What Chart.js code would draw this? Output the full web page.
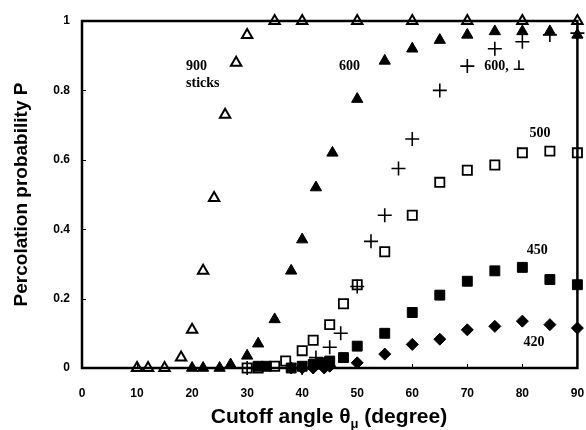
<!DOCTYPE html>
<html>
<head>
<meta charset="utf-8">
<script src="https://cdn.jsdelivr.net/npm/chart.js@4.4.1/dist/chart.umd.min.js"></script>
<style>
  html, body { margin: 0; padding: 0; background: #fff; }
  #wrap { width: 586px; height: 430px; }
</style>
</head>
<body>
<div id="wrap"><canvas id="percChart"></canvas></div>
<script>
// values (cutoff angle in degrees, probability P)
const angle900 = [10, 12, 15, 18, 20, 22, 24, 26, 28, 30, 35, 40, 50, 60, 70, 80, 90];
const prob900  = [0, 0, 0, 0.03, 0.11, 0.28, 0.49, 0.73, 0.88, 0.96, 1, 1, 1, 1, 1, 1, 1];

const angle600 = [20, 22, 25, 27, 30, 32, 35, 38, 40, 42.5, 45.5, 50, 55, 60, 65, 70, 75, 80, 85, 90];
const prob600  = [0, 0, 0, 0.01, 0.035, 0.07, 0.14, 0.28, 0.37, 0.52, 0.62, 0.775, 0.885, 0.92, 0.945, 0.96, 0.97, 0.97, 0.97, 0.96];

const angle600perp = [30, 40, 42.5, 45, 47, 50, 52.5, 55, 57.5, 60, 65, 70, 75, 80, 85, 90];
const prob600perp  = [0, 0, 0.03, 0.06, 0.10, 0.235, 0.365, 0.44, 0.575, 0.66, 0.80, 0.87, 0.92, 0.94, 0.96, 0.965];

const angle500 = [30, 32, 35, 37, 40, 42, 45, 47.5, 50, 55, 60, 65, 70, 75, 80, 85, 90];
const prob500  = [0, 0, 0.005, 0.02, 0.05, 0.08, 0.125, 0.185, 0.24, 0.335, 0.44, 0.535, 0.57, 0.585, 0.62, 0.625, 0.62];

const angle450 = [32, 33.5, 38, 40, 42, 43.5, 45, 47.5, 50, 55, 60, 65, 70, 75, 80, 85, 90];
const prob450  = [0.005, 0.005, 0, 0.005, 0.01, 0.015, 0.02, 0.03, 0.063, 0.10, 0.16, 0.21, 0.25, 0.28, 0.29, 0.255, 0.24];

const angle420 = [38, 40, 42, 44, 45, 50, 55, 60, 65, 70, 75, 80, 85, 90];
const prob420  = [0, 0, 0, 0, 0.005, 0.015, 0.04, 0.068, 0.083, 0.11, 0.12, 0.135, 0.125, 0.115];

const xTicks = [0, 10, 20, 30, 40, 50, 60, 70, 80, 90];
const yTicks = [0, 0.2, 0.4, 0.6, 0.8, 1];

// series labels written inside the plot, anchored in data units
const noteText = ['900', 'sticks', '600', '600, \u22A5', '500', '450', '420'];
const noteX    = [18.9, 18.9, 46.7, 73.1, 81.3, 80.8, 80.2];
const noteY    = [0.87, 0.82, 0.87, 0.87, 0.676, 0.339, 0.075];

function pts(xs, ys) {
  return xs.map((x, i) => ({x: x, y: ys[i]}))
}

function series(xs, ys, style, radius, fill, width) {
  return {
    data: pts(xs, ys),
    pointStyle: style,
    pointRadius: radius,
    pointHoverRadius: radius,
    pointBorderColor: '#000',
    pointBackgroundColor: fill ? '#000' : 'rgba(0,0,0,0)',
    pointBorderWidth: width,
    showLine: false,
    clip: false
  }
}

const frame = {
  id: 'frame',
  beforeDatasetsDraw(chart) {
    const {ctx, chartArea: a, scales} = chart;
    ctx.save();
    ctx.strokeStyle = '#000';
    ctx.lineWidth = 2.5;
    ctx.strokeRect(a.left, a.top, a.right - a.left, a.bottom - a.top);
    ctx.lineWidth = 1;
    ctx.beginPath();
    xTicks.forEach(t => {
      const px = Math.round(scales.x.getPixelForValue(t)) + 0.5;
      ctx.moveTo(px, a.bottom);
      ctx.lineTo(px, a.bottom - 4);
    });
    yTicks.forEach(t => {
      const py = Math.round(scales.y.getPixelForValue(t)) + 0.5;
      ctx.moveTo(a.left, py);
      ctx.lineTo(a.left + 4, py);
    });
    ctx.stroke();
    ctx.restore();
  },
  afterDraw(chart) {
    const {ctx, chartArea: a, scales} = chart;
    ctx.save();
    ctx.fillStyle = '#000';
    ctx.textBaseline = 'middle';
    ctx.textAlign = 'left';
    ctx.font = 'bold 14px "Liberation Serif", "DejaVu Serif", serif';
    noteText.forEach((t, i) => {
      ctx.fillText(t, scales.x.getPixelForValue(noteX[i]), scales.y.getPixelForValue(noteY[i]));
    });

    // x axis title with subscript mu
    const big = 'bold 21px "Liberation Sans", Arial, sans-serif';
    const small = 'bold 13px "Liberation Sans", Arial, sans-serif';
    const p1 = 'Cutoff angle \u03B8', sub = '\u03BC', p2 = ' (degree)';
    ctx.font = big;
    const w1 = ctx.measureText(p1).width, w3 = ctx.measureText(p2).width;
    ctx.font = small;
    const w2 = ctx.measureText(sub).width;
    let x = 329 - (w1 + w2 + w3) / 2;
    const y = 417;
    ctx.font = big;
    ctx.fillText(p1, x, y);
    x += w1;
    ctx.font = small;
    ctx.fillText(sub, x, y + 7);
    x += w2;
    ctx.font = big;
    ctx.fillText(p2, x, y);
    ctx.restore();
  }
};

const tickFont = {family: '"Liberation Sans", Arial, sans-serif', size: 12, weight: 'bold'};

new Chart(document.getElementById('percChart'), {
  type: 'scatter',
  data: {
    datasets: [
      series(angle900, prob900, 'triangle', 6, false, 2),
      series(angle600, prob600, 'triangle', 6.5, true, 1),
      series(angle600perp, prob600perp, 'cross', 7, false, 1.6),
      series(angle500, prob500, 'rect', 6.5, false, 1.8),
      series(angle450, prob450, 'rect', 7, true, 1),
      series(angle420, prob420, 'rectRot', 6, true, 1)
    ]
  },
  options: {
    responsive: true,
    maintainAspectRatio: false,
    animation: false,
    layout: {padding: {top: 21, right: 8, left: 0, bottom: 0}},
    plugins: {
      legend: {display: false},
      tooltip: {enabled: false}
    },
    scales: {
      x: {
        type: 'linear',
        min: 0,
        max: 90,
        afterFit: s => { s.height = 62; s.paddingLeft = 0; s.paddingRight = 0 },
        afterBuildTicks: s => { s.ticks = xTicks.map(v => ({value: v})) },
        grid: {display: false, drawTicks: false},
        border: {display: false},
        ticks: {font: tickFont, color: '#000', padding: 18, maxRotation: 0}
      },
      y: {
        type: 'linear',
        min: 0,
        max: 1,
        afterFit: s => { s.width = 82; s.paddingTop = 0; s.paddingBottom = 0 },
        afterBuildTicks: s => { s.ticks = yTicks.map(v => ({value: v})) },
        grid: {display: false, drawTicks: false},
        border: {display: false},
        ticks: {
          font: tickFont,
          color: '#000',
          padding: 12,
          callback: v => (v === 0 || v === 1) ? String(v) : v.toFixed(1)
        },
        title: {
          display: true,
          text: 'Percolation probability P',
          color: '#000',
          font: {family: '"Liberation Sans", Arial, sans-serif', size: 19, weight: 'bold'},
          padding: {top: 10, bottom: 0}
        }
      }
    }
  },
  plugins: [frame]
});
</script>
</body>
</html>
